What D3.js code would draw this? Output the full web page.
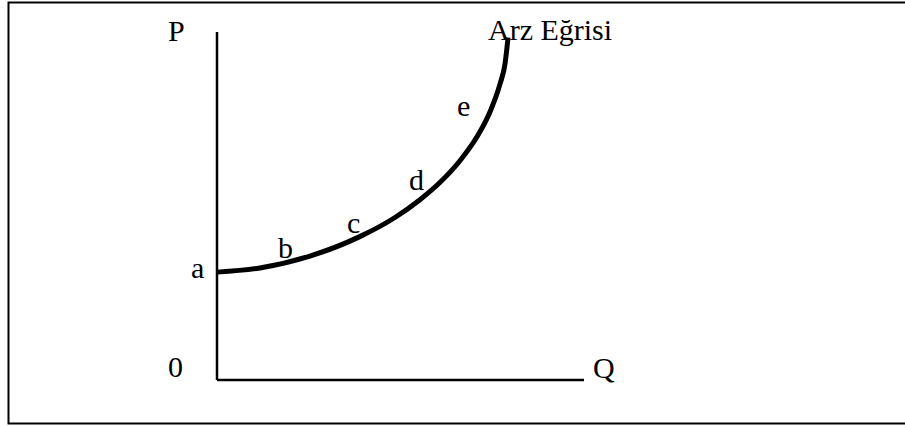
<!DOCTYPE html>
<html>
<head>
    <meta charset="utf-8">
    <title>Arz Eğrisi</title>
    <style>
    body { margin: 0; background: #fff; }
    text {
        font-family: "Times New Roman", "Liberation Serif", serif;
        font-size: 30px;
        fill: #000;
    }
    </style>
</head>
<body>
    <script src="https://cdn.jsdelivr.net/npm/d3@7"></script>
    <script>

    var width = 905,
        height = 426

    // supply curve (Q, P on a 0..100 scale)
    var curveQ = [0, 11.7, 25.3, 38.9, 48.5, 55.3, 60.8, 66.2, 70.8, 74.4, 77.1, 78.5, 79.3]
    var curveP = [31.0, 32.2, 35.6, 41.2, 46.7, 51.8, 56.8, 63.0, 69.8, 77.1, 85.0, 91.0, 98.4]

    // point labels along the curve
    var pointNames = ['a', 'b', 'c', 'd', 'e']
    var pointQ = [-7.1, 16.6, 35.4, 52.3, 65.4]
    var pointP = [29.3, 35.1, 42.2, 54.6, 75.9]

    var svg = d3.select('body').append('svg')
        .attr('width', width)
        .attr('height', height)

    // frame
    svg.append('rect')
        .attr('x', 8.5)
        .attr('y', 2.5)
        .attr('width', 920)
        .attr('height', 421)
        .attr('fill', 'none')
        .attr('stroke', '#000')
        .attr('stroke-width', 2)

    var x = d3.scaleLinear().domain([0, 100]).range([217, 584])
    var y = d3.scaleLinear().domain([0, 100]).range([380, 32])

    // axes
    var axis = svg.append('g')
        .attr('stroke', '#000')
        .attr('stroke-width', 2.5)
    axis.append('line')
        .attr('x1', x(0)).attr('y1', y(0))
        .attr('x2', x(0)).attr('y2', y(100))
    axis.append('line')
        .attr('x1', x(0)).attr('y1', y(0))
        .attr('x2', x(100)).attr('y2', y(0))

    var pts = curveQ.map(function(q, i){ return [q, curveP[i]] })

    var line = d3.line()
        .x(function(d){ return x(d[0]) })
        .y(function(d){ return y(d[1]) })
        .curve(d3.curveMonotoneX)

    svg.append('path')
        .datum(pts)
        .attr('d', line)
        .attr('fill', 'none')
        .attr('stroke', '#000')
        .attr('stroke-width', 5)

    // axis labels
    svg.append('text').attr('x', x(0) - 49).attr('y', 41).text('P')
    svg.append('text').attr('x', x(0) - 49).attr('y', 377).text('0')
    svg.append('text').attr('x', x(100) + 9).attr('y', 378).text('Q')
    svg.append('text').attr('x', 488).attr('y', 40).text('Arz Eğrisi')

    svg.selectAll('.pt')
        .data(pointNames)
        .enter().append('text')
        .attr('class', 'pt')
        .attr('x', function(d, i){ return x(pointQ[i]) })
        .attr('y', function(d, i){ return y(pointP[i]) })
        .text(function(d){ return d })

    </script>
</body>
</html>
